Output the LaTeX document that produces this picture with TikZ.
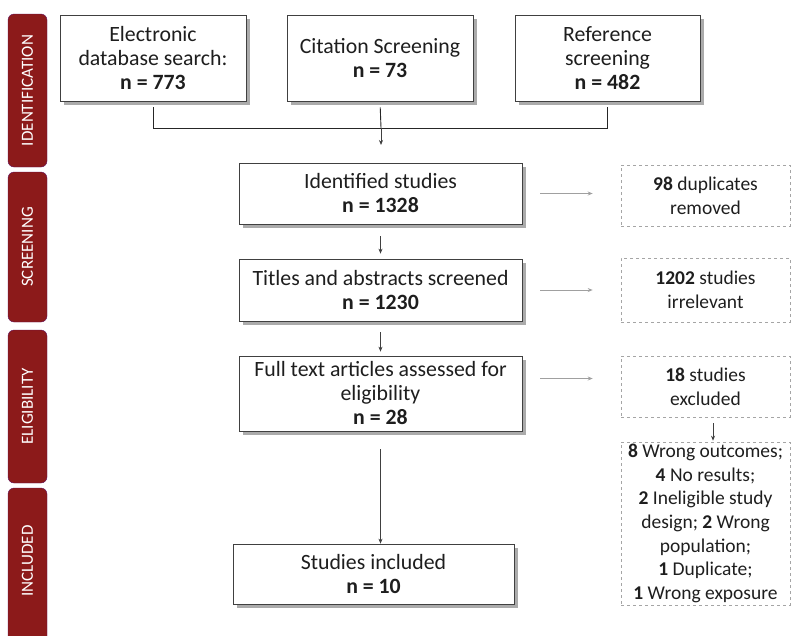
\documentclass[tikz,border=0pt]{standalone}
\usepackage{fontspec}
\setmainfont{Carlito}
\usetikzlibrary{arrows.meta,shadows,calc}
\definecolor{barred}{RGB}{140,26,26}
\definecolor{txt}{RGB}{30,30,30}
\definecolor{arrgray}{RGB}{160,160,160}
\definecolor{dashgray}{RGB}{165,165,165}
\begin{document}
\begin{tikzpicture}[x=1pt,y=-1pt,
  mainbox/.style={draw=black!75,line width=0.7pt,fill=white,align=center,inner sep=0pt,
    text=txt,font=\fontsize{21.8}{24}\selectfont,
    drop shadow={shadow xshift=3.5pt,shadow yshift=-3.5pt,fill=black!55,opacity=0.6}},
  sidebox/.style={draw=dashgray,dashed,line width=0.6pt,align=center,inner sep=0pt,
    text=txt,font=\fontsize{19.5}{23.7}\selectfont},
  bar/.style={fill=barred,draw=barred!70!blue,line width=0.4pt,rounded corners=6pt},
  barlabel/.style={text=white,rotate=90,font=\fontsize{17}{19}\selectfont},
  conn/.style={draw=black!85,line width=0.9pt},
  arr/.style={draw=black!75,line width=0.7pt,-{Stealth[length=5pt,width=4pt]}},
  garr/.style={draw=arrgray,line width=1pt,-{Stealth[length=5pt,width=4pt]}}]
\useasboundingbox (0,0) rectangle (791,635);

% side bars
\draw[bar] (8,14) rectangle (47,167);
\draw[bar] (8,172) rectangle (47,322);
\draw[bar] (8,330) rectangle (47,483);
\draw[bar] (8,488) rectangle (47,650);
\node[barlabel] (lid) at (27.5,90.5) {IDENTIFICATION};
\node[barlabel] (lsc) at (27.5,247) {SCREENING};
\node[barlabel] (lel) at (27.5,406.5) {ELIGIBILITY};
\node[barlabel] (lin) at (27.5,561) {INCLUDED};

% top boxes
\node[mainbox,minimum width=186pt,minimum height=86pt] (e) at (153,58)
  {Electronic\\database search:\\\textbf{n = 773}};
\node[mainbox,minimum width=186pt,minimum height=86pt] (c) at (380,58)
  {Citation Screening\\\textbf{n = 73}};
\node[mainbox,minimum width=185pt,minimum height=86pt] (r) at (607.5,58)
  {Reference\\screening\\\textbf{n = 482}};

% main column
\node[mainbox,minimum width=283pt,minimum height=61pt] (id) at (380.5,193.5)
  {Identified studies\\\textbf{n = 1328}};
\node[mainbox,minimum width=283pt,minimum height=62pt] (ti) at (380.5,290)
  {Titles and abstracts screened\\\textbf{n = 1230}};
\node[mainbox,minimum width=283pt,minimum height=75pt] (ft) at (380.5,393.5)
  {Full text articles assessed for\\eligibility\\\textbf{n = 28}};
\node[mainbox,minimum width=281pt,minimum height=60pt] (in) at (373.5,574)
  {Studies included\\\textbf{n = 10}};

% side boxes
\node[sidebox,minimum width=169pt,minimum height=61pt] (d1) at (705.5,195.5)
  {\textbf{98} duplicates\\removed};
\node[sidebox,minimum width=169pt,minimum height=64pt] (d2) at (705.5,290)
  {\textbf{1202} studies\\irrelevant};
\node[sidebox,minimum width=169pt,minimum height=61pt] (d3) at (705.5,386.5)
  {\textbf{18} studies\\excluded};
\node[sidebox,minimum width=169pt,minimum height=163pt] (d4) at (705.5,523.5)
  {\textbf{8} Wrong outcomes;\\\textbf{4} No results;\\\textbf{2} Ineligible study\\design; \textbf{2} Wrong\\population;\\\textbf{1} Duplicate;\\\textbf{1} Wrong exposure};

% top connector
\coordinate (j) at (381,128);
\coordinate (jt) at (381,145);
\draw[conn,shorten <=6pt] (e.south) |- (j);
\draw[conn,shorten <=6pt] (r.south) |- (j);
\draw[conn,shorten <=6pt] (c.south) -- (j);
\draw[arr] (j) -- (jt);

% vertical arrows
\draw[arr,shorten <=12pt,shorten >=5pt] (id.south) -- (ti.north);
\draw[arr,shorten <=11pt,shorten >=4pt] (ti.south) -- (ft.north);
\draw[arr,shorten <=18pt] (ft.south) -- (ft.south|-in.north);
\draw[arr,shorten <=6pt,shorten >=1pt] (d3.south-|713,0) -- (d4.north-|713,0);

% gray arrows
\draw[garr,shorten <=18pt,shorten >=28pt] (id.east) -- (id.east-|d1.west);
\draw[garr,shorten <=18pt,shorten >=28pt] (ti.east) -- (ti.east-|d2.west);
\draw[garr,shorten <=18pt,shorten >=28pt] ($(ft.east)+(0,-15)$) -- ($(ft.east-|d3.west)+(0,-15)$);
\end{tikzpicture}
\end{document}
